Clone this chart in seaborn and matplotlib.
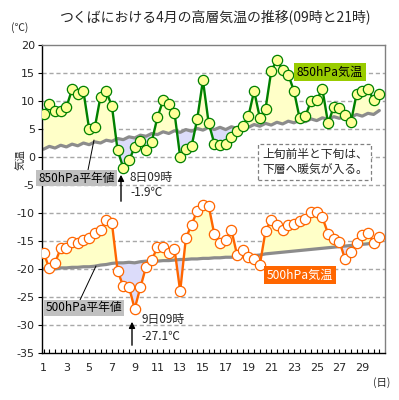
import matplotlib
matplotlib.use("Agg")
import matplotlib.pyplot as plt
import seaborn as sns
import pandas as pd

# ---- data ----
days = list(range(1, 31))
hours = [9, 21]

t850 = [7.7, 9.5, 8.2, 8.2, 8.9, 12.1, 11.2, 11.7, 5.0, 5.3,
        10.8, 11.7, 9.1, 1.2, -1.9, -0.6, 1.7, 2.8, 1.2, 2.7,
        7.1, 10.1, 9.5, 7.9, 0.0, 1.5, 1.9, 6.8, 13.7, 6.1,
        2.4, 2.1, 2.3, 3.6, 4.6, 5.6, 7.3, 11.8, 7.0, 8.6,
        15.3, 17.4, 15.5, 14.7, 11.8, 6.9, 7.3, 10.0, 10.2, 12.1,
        6.0, 9.0, 8.8, 7.5, 6.2, 11.2, 11.7, 12.2, 10.2, 11.3]
n850 = [1.4, 1.9, 1.6, 2.1, 1.8, 2.3, 2.0, 2.5, 2.2, 2.7,
        2.5, 3.0, 2.8, 3.3, 3.1, 3.6, 3.4, 3.9, 3.7, 4.2,
        4.0, 4.5, 4.2, 4.7, 4.4, 4.9, 4.6, 5.1, 4.8, 5.3,
        4.9, 5.3, 4.9, 5.4, 5.1, 5.6, 5.3, 5.8, 5.5, 6.0,
        5.7, 6.2, 5.9, 6.4, 6.1, 6.6, 6.3, 6.8, 6.5, 7.0,
        6.7, 7.2, 6.9, 7.4, 7.1, 7.6, 7.3, 7.8, 7.6, 8.3]
t500 = [-17.1, -19.9, -18.9, -16.3, -16.2, -15.2, -15.4, -14.8, -14.4, -13.6,
        -13.0, -11.3, -11.8, -20.3, -23.1, -23.2, -27.1, -23.3, -19.6, -18.4,
        -16.1, -16.0, -17.2, -16.4, -24.0, -14.5, -12.1, -9.6, -8.6, -8.7,
        -13.8, -15.3, -14.8, -13.0, -17.5, -16.6, -17.9, -18.3, -19.3, -13.2,
        -11.3, -12.2, -13.0, -12.1, -12.0, -11.4, -11.1, -9.9, -9.8, -10.8,
        -13.7, -14.7, -15.1, -18.3, -17.0, -15.4, -13.9, -13.5, -15.3, -14.2]
n500 = [-20.0, -19.9, -20.0, -19.8, -19.8, -19.7, -19.7, -19.6, -19.6, -19.5,
        -19.3, -19.2, -19.0, -18.9, -18.9, -18.8, -18.9, -18.7, -18.6, -18.7,
        -18.6, -18.5, -18.5, -18.4, -18.3, -18.3, -18.2, -18.2, -18.1, -18.1,
        -18.0, -18.0, -17.9, -17.9, -17.8, -17.8, -17.7, -17.6, -17.5, -17.3,
        -17.2, -17.1, -17.0, -16.9, -16.8, -16.7, -16.6, -16.5, -16.4, -16.3,
        -16.2, -16.1, -16.0, -15.9, -15.8, -15.7, -15.6, -15.5, -15.3, -15.2]

yticks = [20, 15, 10, 5, 0, -5, -10, -15, -20, -25, -30, -35]
xtick_days = list(range(1, 30, 2))

title = "つくばにおける4月の高層気温の推移(09時と21時)"

# ---- build table ----
xs = [d + (h - 9) / 24 for d in days for h in hours]
df = pd.DataFrame({"x": xs, "t850": t850, "n850": n850,
                   "t500": t500, "n500": n500})

sns.set_theme(style="white")
plt.rcParams["font.family"] = ["Noto Sans CJK JP", "DejaVu Sans"]

W, H = 399, 400
fig = plt.figure(figsize=(W / 100, H / 100), dpi=100)
ax = fig.add_axes([41.7 / W, 1 - 353 / H, (385 - 41.7) / W, 308 / H])

def fx(x):
    return x / W

def fy(y):
    return 1 - y / H

YEL = "#ffffc8"
LAV = "#dcdcfa"
ax.fill_between(df.x, df.t850, df.n850, where=df.t850 >= df.n850,
                interpolate=True, color=YEL, lw=0, zorder=1)
ax.fill_between(df.x, df.t850, df.n850, where=df.t850 < df.n850,
                interpolate=True, color=LAV, lw=0, zorder=1)
ax.fill_between(df.x, df.t500, df.n500, where=df.t500 >= df.n500,
                interpolate=True, color=YEL, lw=0, zorder=1)
ax.fill_between(df.x, df.t500, df.n500, where=df.t500 < df.n500,
                interpolate=True, color=LAV, lw=0, zorder=1)

for yv in yticks[1:-1]:
    ax.axhline(yv, color="#a8a8a8", lw=1, ls=(0, (3, 2)), zorder=0.5)

sns.lineplot(data=df, x="x", y="n850", ax=ax, color="#8c8c8c", lw=2.3, zorder=2)
sns.lineplot(data=df, x="x", y="n500", ax=ax, color="#8c8c8c", lw=2.3, zorder=2)
sns.lineplot(data=df, x="x", y="t850", ax=ax, color="#008000", lw=1.7,
             marker="o", markersize=7.4, markerfacecolor="#ffff99",
             markeredgecolor="#008000", markeredgewidth=0.9, zorder=3)
sns.lineplot(data=df, x="x", y="t500", ax=ax, color="#ff6600", lw=1.7,
             marker="o", markersize=7.4, markerfacecolor="white",
             markeredgecolor="#ff6600", markeredgewidth=0.9, zorder=3)

ax.set_xlim(0.83, 31.0)
ax.set_ylim(-35, 20)
ax.set_xlabel("")
ax.set_ylabel("")
ax.set_yticks(yticks)
ax.set_yticklabels([str(v) for v in yticks], fontsize=8, family="DejaVu Sans")
ax.set_xticks(xtick_days)
ax.set_xticklabels([str(v) for v in xtick_days], fontsize=8, family="DejaVu Sans")
ax.set_xticks([d + 0.5 * k for d in days for k in (0, 1)], minor=True)
ax.tick_params(axis="x", which="both", direction="in", length=3, width=0.8,
               color="black", pad=7, bottom=True)
ax.tick_params(axis="y", which="major", direction="out", length=3, width=0.8,
               color="black", pad=2, left=True)
for s in ("top", "right"):
    ax.spines[s].set_color("#808080")
    ax.spines[s].set_linewidth(1)
for s in ("left", "bottom"):
    ax.spines[s].set_color("black")
    ax.spines[s].set_linewidth(1)

# ---- texts ----
fig.text(fx(216), fy(17), title, ha="center", va="center", fontsize=10)
fig.text(fx(20), fy(28), "(℃)", ha="center", va="center", fontsize=7.5)
fig.text(fx(382), fy(383), "(日)", ha="center", va="center", fontsize=7.5)
fig.text(fx(21), fy(160), "気温", ha="center", va="center", fontsize=7.5,
         rotation=90)

fig.text(fx(330), fy(72), "850hPa気温", ha="center", va="center", fontsize=8.7,
         color="black",
         bbox=dict(boxstyle="square,pad=0.2", fc="#99cc00", ec="none"))
fig.text(fx(300), fy(275), "500hPa気温", ha="center", va="center", fontsize=8.7,
         color="white",
         bbox=dict(boxstyle="square,pad=0.2", fc="#ff6600", ec="none"))

fig.text(fx(76.5), fy(178), "850hPa平年値", ha="center", va="center",
         fontsize=8.5, color="black",
         bbox=dict(boxstyle="square,pad=0.15", fc="#c0c0c0", ec="none"), zorder=5)
fig.text(fx(84), fy(308), "500hPa平年値", ha="center", va="center",
         fontsize=8.5, color="black",
         bbox=dict(boxstyle="square,pad=0.15", fc="#c0c0c0", ec="none"), zorder=5)

fig.add_artist(plt.Line2D([fx(88), fx(94)], [fy(170), fy(140)],
                          color="black", lw=0.7))
fig.add_artist(plt.Line2D([fx(80), fx(96)], [fy(300), fy(266)],
                          color="black", lw=0.7))

fig.text(fx(262), fy(162), "上旬前半と下旬は、\n下層へ暖気が入る。", ha="left",
         va="center", fontsize=8.5, linespacing=1.25,
         bbox=dict(boxstyle="square,pad=0.3", fc="white", ec="#808080",
                   ls=(0, (3, 2)), lw=0.9))

fig.text(fx(130), fy(177), "8日09時", ha="left", va="center", fontsize=8.5)
fig.text(fx(130), fy(193), "-1.9℃", ha="left", va="center", fontsize=8.5)
fig.text(fx(141), fy(319), "9日09時", ha="left", va="center", fontsize=8.5)
fig.text(fx(141), fy(336), "-27.1℃", ha="left", va="center", fontsize=8.5)

ax.annotate("", xy=(fx(121), fy(172)), xytext=(fx(121), fy(204)),
            xycoords="figure fraction", textcoords="figure fraction",
            arrowprops=dict(arrowstyle="-|>", color="black", lw=1,
                            mutation_scale=9))
ax.annotate("", xy=(fx(132), fy(319)), xytext=(fx(132), fy(348)),
            xycoords="figure fraction", textcoords="figure fraction",
            arrowprops=dict(arrowstyle="-|>", color="black", lw=1,
                            mutation_scale=9))

fig.savefig("out.png", dpi=100)
